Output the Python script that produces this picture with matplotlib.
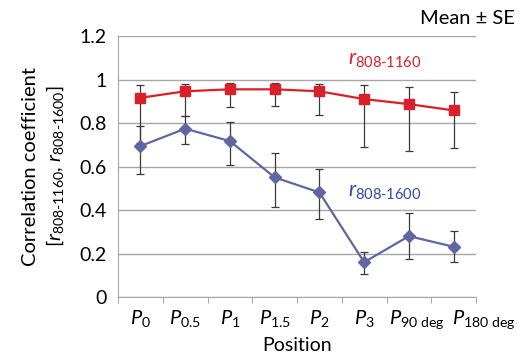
import numpy as np
import matplotlib
matplotlib.use("Agg")
import matplotlib.pyplot as plt
import matplotlib.transforms as mtransforms

plt.rcParams['font.family'] = ['Lato', 'DejaVu Sans']
plt.rcParams['mathtext.fontset'] = 'custom'
plt.rcParams['mathtext.rm'] = 'Lato'
plt.rcParams['mathtext.it'] = 'Lato:italic'

# data
positions = [r'$P_{0}$', r'$P_{0.5}$', r'$P_{1}$', r'$P_{1.5}$', r'$P_{2}$',
             r'$P_{3}$', r'$P_{\mathrm{90\ deg}}$', r'$P_{\mathrm{180\ deg}}$']
r1160 = [0.916, 0.946, 0.955, 0.955, 0.946, 0.910, 0.887, 0.858]
r1160_hi = [0.975, 0.979, 0.985, 0.985, 0.979, 0.975, 0.964, 0.941]
r1160_lo = [0.710, 0.832, 0.873, 0.878, 0.838, 0.691, 0.673, 0.684]
r1600 = [0.694, 0.774, 0.717, 0.550, 0.481, 0.160, 0.280, 0.231]
r1600_hi = [0.788, 0.832, 0.803, 0.662, 0.588, 0.208, 0.385, 0.302]
r1600_lo = [0.566, 0.702, 0.608, 0.414, 0.360, 0.106, 0.175, 0.161]

red = '#d9202a'
blue = '#5f67a0'

fig = plt.figure(figsize=(5.19, 3.64), dpi=100)
ax = fig.add_axes([0.2274, 0.184, 0.6898, 0.717])

x = np.arange(len(positions))
for y, hi, lo, col, mk, ms in [(r1160, r1160_hi, r1160_lo, red, 's', 7.5),
                               (r1600, r1600_hi, r1600_lo, blue, 'D', 6)]:
    y = np.array(y)
    err = [y - np.array(lo), np.array(hi) - y]
    ax.errorbar(x, y, yerr=err, fmt='none', ecolor='#3a3a3a', elinewidth=0.9,
                capsize=3, capthick=0.9, zorder=2)
    ax.plot(x, y, color=col, lw=1.6, marker=mk, ms=ms, zorder=3)

ax.set_xlim(-0.5, 7.5)
ax.set_ylim(0, 1.2)
ax.set_yticks([0, 0.2, 0.4, 0.6, 0.8, 1.0, 1.2])
ax.set_yticklabels(['0', '0.2', '0.4', '0.6', '0.8', '1', '1.2'])
ax.set_xticks(x)
ax.set_xticklabels(positions)
ax.set_xticks(np.arange(-0.5, 8, 1), minor=True)
ax.tick_params(axis='x', which='major', length=0, pad=8, labelsize=14.5)
ax.tick_params(axis='x', which='minor', length=4, color='#999999')
ax.tick_params(axis='y', length=0, pad=8, labelsize=14)
ax.grid(axis='y', color='#a6a6a6', lw=1)
ax.set_axisbelow(True)
for s in ['top', 'right']:
    ax.spines[s].set_visible(False)
for s in ['left', 'bottom']:
    ax.spines[s].set_color('#a6a6a6')

# last two labels sit right of their category centre, as in the original
labels = ax.get_xticklabels()
for lab, dx in [(labels[6], 8), (labels[7], 30)]:
    off = mtransforms.ScaledTranslation(dx / 100, 0, fig.dpi_scale_trans)
    lab.set_transform(lab.get_transform() + off)

ax.set_xlabel('Position', fontsize=14, labelpad=4)
ax.set_ylabel('Correlation coefficient\n' + r'[$r_{\mathrm{808\text{-}1160}}$, $r_{\mathrm{808\text{-}1600}}$]',
              fontsize=14.5, labelpad=10, linespacing=1.3)

ax.text(4.64, 1.07, r'$r_{\mathrm{808\text{-}1160}}$', color=red, fontsize=15)
ax.text(4.65, 0.46, r'$r_{\mathrm{808\text{-}1600}}$', color='#2f4aa0', fontsize=15)
fig.text(0.993, 0.935, 'Mean ± SE', ha='right', fontsize=14.5)

fig.savefig('out.png', dpi=100)
